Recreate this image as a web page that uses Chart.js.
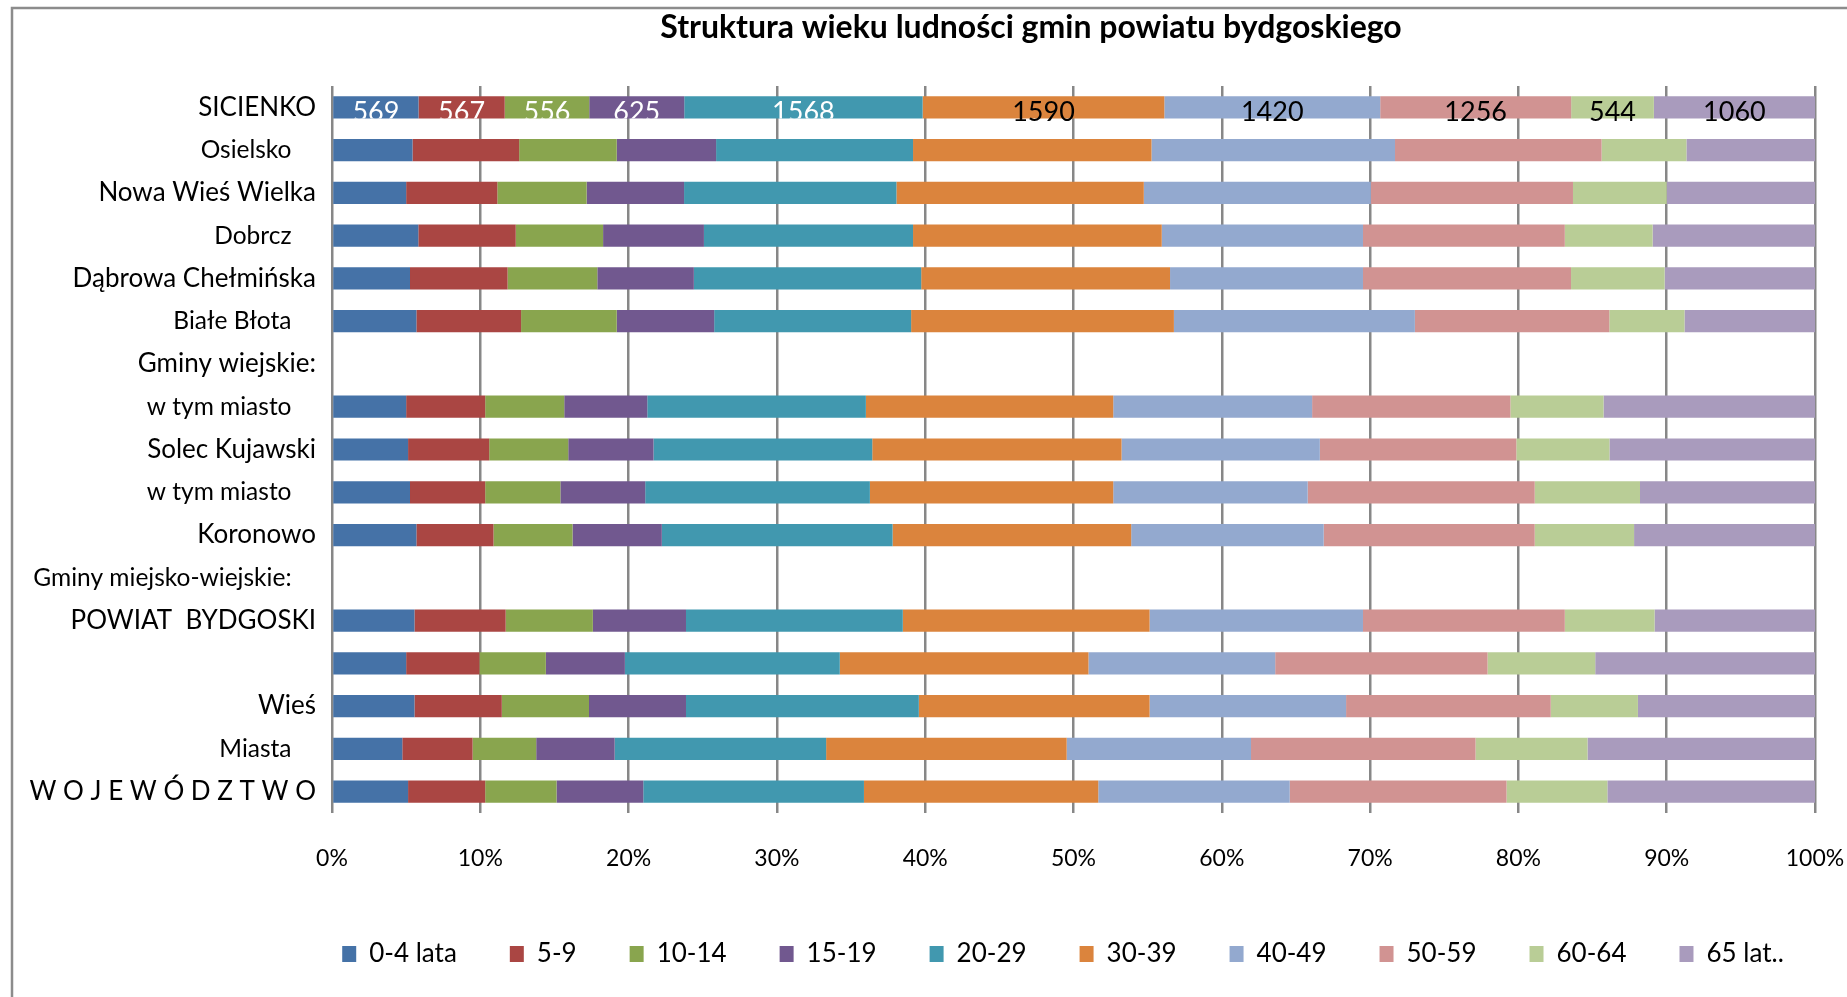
<!DOCTYPE html>
<html><head><meta charset="utf-8">
<script src="https://cdn.jsdelivr.net/npm/chart.js@4.4.1/dist/chart.umd.min.js"></script>
<style>html,body{margin:0;padding:0;background:#fff;overflow:hidden}canvas{display:block}</style>
</head><body>
<canvas id="c" width="1847" height="997"></canvas>
<script>
const chartTitle = 'Struktura wieku ludności gmin powiatu bydgoskiego';
const categories = ['SICIENKO','Osielsko','Nowa Wieś Wielka','Dobrcz','Dąbrowa Chełmińska','Białe Błota','Gminy wiejskie:','w tym miasto','Solec Kujawski','w tym miasto','Koronowo','Gminy miejsko-wiejskie:','POWIAT  BYDGOSKI','','Wieś','Miasta','W O J E W Ó D Z T W O'];
const seriesNames = ['0-4 lata','5-9','10-14','15-19','20-29','30-39','40-49','50-59','60-64','65 lat..'];
const xTickValues = [0,10,20,30,40,50,60,70,80,90,100];
// Row 0 (SICIENKO): counts shown on the chart; other rows: shares (%)
const age0_4   = [569, 5.43, 5.00, 5.82, 5.26, 5.69, null, 5.00, 5.13, 5.26, 5.69, null, 5.56, 5.00, 5.56, 4.74, 5.13];
const age5_9   = [567, 7.19, 6.15, 6.57, 6.58, 7.06, null, 5.33, 5.47, 5.07, 5.20, null, 6.15, 4.94, 5.89, 4.74, 5.20];
const age10_14 = [556, 6.58, 6.02, 5.89, 6.05, 6.45, null, 5.33, 5.33, 5.07, 5.33, null, 5.88, 4.48, 5.88, 4.29, 4.81];
const age15_19 = [625, 6.70, 6.57, 6.80, 6.51, 6.57, null, 5.60, 5.75, 5.72, 6.02, null, 6.28, 5.33, 6.54, 5.29, 5.85];
const age20_29 = [1568, 13.28, 14.32, 14.10, 15.33, 13.28, null, 14.74, 14.75, 15.15, 15.56, null, 14.62, 14.49, 15.70, 14.26, 14.88];
const age30_39 = [1590, 16.08, 16.68, 16.77, 16.78, 17.72, null, 16.68, 16.81, 16.41, 16.09, null, 16.64, 16.77, 15.56, 16.22, 15.80];
const age40_49 = [1420, 16.42, 15.31, 13.57, 13.01, 16.25, null, 13.41, 13.37, 13.11, 12.98, null, 14.39, 12.59, 13.25, 12.43, 12.91];
const age50_59 = [1256, 13.93, 13.63, 13.61, 14.03, 13.11, null, 13.37, 13.25, 15.31, 14.23, null, 13.61, 14.32, 13.80, 15.14, 14.62];
const age60_64 = [544, 5.72, 6.32, 5.92, 6.31, 5.07, null, 6.28, 6.28, 7.10, 6.70, null, 6.05, 7.26, 5.88, 7.55, 6.80];
const age65    = [1060, 8.67, 10.00, 10.95, 10.14, 8.80, null, 14.26, 13.86, 11.80, 12.20, null, 10.82, 14.82, 11.94, 15.34, 14.00];
const labelledRows = [0];

const rawSeries = [age0_4, age5_9, age10_14, age15_19, age20_29, age30_39, age40_49, age50_59, age60_64, age65];
const colors = ['#4572A7','#AA4643','#89A54E','#71588F','#4198AF','#DB843D','#93A9CF','#D19392','#B9CD96','#A99BBD'];
const labelColors = ['#fff','#fff','#fff','#fff','#fff','#000','#000','#000','#000','#000'];

// 100% stacking
const rowTotals = categories.map((_, i) => rawSeries.reduce((s, arr) => s + (arr[i] || 0), 0));
const datasets = rawSeries.map((arr, si) => ({
  label: seriesNames[si],
  data: arr.map((v, i) => v == null ? null : v / rowTotals[i] * 100),
  backgroundColor: colors[si],
  borderWidth: 0,
  barPercentage: 0.52,
  categoryPercentage: 1.0
}));

const frame = {
  id: 'frame',
  beforeDraw(chart) {
    const ctx = chart.ctx;
    ctx.save();
    ctx.fillStyle = '#fff';
    ctx.fillRect(0, 0, chart.width, chart.height);
    ctx.strokeStyle = '#8c8c8c';
    ctx.lineWidth = 2.5;
    ctx.beginPath();
    ctx.moveTo(12, chart.height + 5);
    ctx.lineTo(12, 8);
    ctx.lineTo(chart.width + 5, 8);
    ctx.stroke();
    ctx.restore();
  }
};

// place title / legend blocks like the original (centered on the right part of the frame)
const blockShift = {
  id: 'blockShift',
  afterLayout(chart) {
    if (chart.titleBlock) { chart.titleBlock.left = 215; chart.titleBlock.right = chart.width; }
    if (chart.legend) { chart.legend.left = 247; chart.legend.right = chart.width + 32; }
  }
};

const valueLabels = {
  id: 'valueLabels',
  afterDatasetsDraw(chart) {
    const ctx = chart.ctx;
    chart.data.datasets.forEach((ds, di) => {
      const meta = chart.getDatasetMeta(di);
      labelledRows.forEach(ri => {
        const el = meta.data[ri];
        if (!el) return;
        const p = el.getProps(['x', 'y', 'base', 'height'], true);
        const cx = (p.x + p.base) / 2;
        ctx.save();
        if (labelColors[di] === '#fff') {
          ctx.beginPath();
          ctx.rect(Math.min(p.x, p.base), p.y - p.height / 2, Math.abs(p.x - p.base), p.height);
          ctx.clip();
        }
        ctx.fillStyle = labelColors[di];
        ctx.font = '27px Lato';
        ctx.textAlign = 'center';
        ctx.textBaseline = 'middle';
        ctx.fillText(String(rawSeries[di][ri]), cx, p.y + 5);
        ctx.restore();
      });
    });
  }
};

function draw() {
  new Chart(document.getElementById('c'), {
    type: 'bar',
    data: { labels: categories, datasets },
    plugins: [frame, blockShift, valueLabels],
    options: {
      indexAxis: 'y',
      responsive: false,
      animation: false,
      layout: { padding: { left: 0, right: 32, top: 0, bottom: 20 } },
      scales: {
        x: {
          stacked: true, min: 0, max: 100,
          afterBuildTicks: s => { s.ticks = xTickValues.map(v => ({ value: v })); },
          ticks: { callback: v => v + '%', color: '#000', font: { family: 'Lato', size: 23 }, padding: 32, maxRotation: 0, autoSkip: false },
          grid: { color: '#878787', lineWidth: 2.5, drawTicks: false },
          border: { display: false },
          afterFit: s => { s.height = 75; s.paddingLeft = 0; s.paddingRight = 0; }
        },
        y: {
          stacked: true,
          grid: { display: false, drawTicks: false },
          border: { display: false },
          ticks: {
            color: '#000', autoSkip: false, padding: 16,
            font: ctx => ({ family: 'Lato', size: ctx.index % 2 ? 24.5 : 26 }),
            callback: (v, i) => categories[i] + (i % 2 ? '\u2002\u2002' : '')
          },
          afterFit: s => { s.width = 332; s.paddingTop = 0; s.paddingBottom = 0; }
        }
      },
      plugins: {
        title: { display: true, text: chartTitle, color: '#000', font: { family: 'Lato', size: 32, weight: 'bold' }, padding: { top: 8, bottom: 39.6 } },
        legend: { position: 'bottom', labels: { boxWidth: 14, boxHeight: 16, padding: 53, color: '#000', font: { family: 'Lato', size: 26 } } },
        tooltip: { enabled: false }
      }
    }
  });
}
Promise.all([document.fonts.load('26px Lato'), document.fonts.load('bold 32px Lato')]).then(draw, draw);
</script>
</body></html>
